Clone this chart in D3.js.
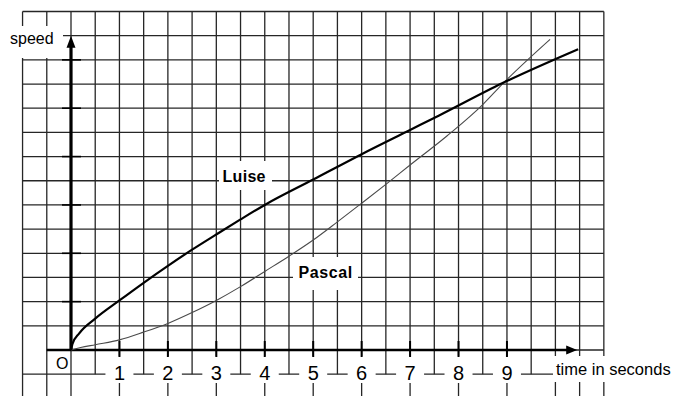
<!DOCTYPE html>
<html>
<head>
<meta charset="utf-8">
<script src="https://cdn.jsdelivr.net/npm/d3@7"></script>
<style>
  html, body { margin: 0; padding: 0; background: #fff; }
  text { font-family: "Liberation Sans", Arial, sans-serif; }
</style>
</head>
<body>
<div id="chart"></div>
<script>
// time in seconds / speed (in grid squares)
const tickSeconds = [1, 2, 3, 4, 5, 6, 7, 8, 9];

const luiseTime  = [0, 0.03, 0.17, 0.5, 1, 1.5, 2, 2.5, 3, 3.5, 4, 5, 6, 7, 7.6, 8.9, 10.47];
const luiseSpeed = [0, 0.25, 0.69, 1.3, 2.05, 2.78, 3.48, 4.15, 4.78, 5.4, 6.0, 7.05, 8.1, 9.1, 9.7, 11.03, 12.44];

const pascalTime  = [0, 0.2, 0.5, 1, 1.5, 2, 2.5, 3, 3.5, 4, 4.5, 5, 5.5, 6, 6.5, 7, 7.76, 8.5, 8.92, 9.89];
const pascalSpeed = [0, 0.1, 0.22, 0.42, 0.74, 1.1, 1.55, 2.05, 2.62, 3.25, 3.88, 4.55, 5.3, 6.07, 6.85, 7.65, 8.85, 10.15, 11.03, 12.85];

chart();

function chart() {
	const W = 680, H = 396;

	const svg = d3.select("#chart")
				  .append("svg")
				  .attr("width", W)
				  .attr("height", H);

	const x = d3.scaleLinear()
				.domain([0, 10])
				.range([71, 555.4]);

	const y = d3.scaleLinear()
				.domain([0, 14])
				.range([350, 11.5]);

	const gridColor = "#262626";

	// vertical grid lines, one every half second
	const grid = svg.append("g");
	d3.range(-1, 11.001, 0.5).forEach(t => {
		const half = t % 1 !== 0 && t > 0 && t < 10;
		grid.append("line")
			.attr("x1", x(t)).attr("x2", x(t))
			.attr("y1", y(14)).attr("y2", half ? y(-1) : H)
			.attr("stroke", gridColor)
			.attr("stroke-width", 1.3);
	});

	// horizontal grid lines, one per square
	d3.range(-1, 14.001, 1).forEach(v => {
		let x1 = x(-1), x2 = x(11);
		if (v === 0) x1 = x(-0.5);
		if (v === -1) x2 = x(10) - 2;
		grid.append("line")
			.attr("x1", x1).attr("x2", x2)
			.attr("y1", y(v)).attr("y2", y(v))
			.attr("stroke", gridColor)
			.attr("stroke-width", 1.3);
	});

	// white boxes behind the labels
	const boxes = [
		[0, 26, 63, 32],      // speed
		[219, 161, 53, 29],   // Luise
		[293, 257, 65, 33],   // Pascal
		[52, 353, 17, 19],    // O
		[553, 356, 127, 26]   // time in seconds
	];
	tickSeconds.forEach(t => boxes.push([x(t) - 14, 356, 28, 27]));
	svg.append("g")
	   .selectAll("rect")
	   .data(boxes)
	   .enter()
	   .append("rect")
	   .attr("x", d => d[0])
	   .attr("y", d => d[1])
	   .attr("width", d => d[2])
	   .attr("height", d => d[3])
	   .attr("fill", "#fff");

	// x-axis ticks
	svg.append("g")
	   .selectAll("line")
	   .data(tickSeconds)
	   .enter()
	   .append("line")
	   .attr("x1", d => x(d)).attr("x2", d => x(d))
	   .attr("y1", y(0) - 9).attr("y2", y(0) + 7)
	   .attr("stroke", "#000")
	   .attr("stroke-width", 2);

	// y-axis ticks, every two squares
	svg.append("g")
	   .selectAll("line")
	   .data([2, 4, 6, 8, 10, 12])
	   .enter()
	   .append("line")
	   .attr("x1", x(0) - 9).attr("x2", x(0) + 10)
	   .attr("y1", d => y(d)).attr("y2", d => y(d))
	   .attr("stroke", "#000")
	   .attr("stroke-width", 1.6);

	// axes with arrows
	const xTip = x(10.45), yTip = y(13);
	svg.append("line")
	   .attr("x1", x(-0.5)).attr("x2", xTip - 8)
	   .attr("y1", y(0)).attr("y2", y(0))
	   .attr("stroke", "#000")
	   .attr("stroke-width", 2.6);
	svg.append("path")
	   .attr("d", `M${xTip},${y(0)} L${xTip - 11},${y(0) - 4.5} L${xTip - 11},${y(0) + 4.5} Z`)
	   .attr("fill", "#000");

	svg.append("line")
	   .attr("x1", x(0)).attr("x2", x(0))
	   .attr("y1", y(0) + 1).attr("y2", yTip + 8)
	   .attr("stroke", "#000")
	   .attr("stroke-width", 3.2);
	svg.append("path")
	   .attr("d", `M${x(0)},${yTip} L${x(0) - 4.5},${yTip + 12} L${x(0) + 4.5},${yTip + 12} Z`)
	   .attr("fill", "#000");

	// the two runners
	const line = d3.line()
				   .x(d => x(d[0]))
				   .y(d => y(d[1]))
				   .curve(d3.curveMonotoneX);

	svg.append("path")
	   .datum(d3.zip(pascalTime, pascalSpeed))
	   .attr("d", line)
	   .attr("fill", "none")
	   .attr("stroke", "#4a4a4a")
	   .attr("stroke-width", 1.1);

	svg.append("path")
	   .datum(d3.zip(luiseTime, luiseSpeed))
	   .attr("d", line)
	   .attr("fill", "none")
	   .attr("stroke", "#000")
	   .attr("stroke-width", 2.2);

	// labels
	svg.append("text")
	   .attr("x", 10).attr("y", 44)
	   .style("font-size", "16px")
	   .text("speed");

	svg.append("text")
	   .attr("x", 56).attr("y", 368.5)
	   .style("font-size", "16px")
	   .text("O");

	svg.append("g")
	   .selectAll("text")
	   .data(tickSeconds)
	   .enter()
	   .append("text")
	   .attr("x", d => x(d))
	   .attr("y", 379.5)
	   .attr("text-anchor", "middle")
	   .style("font-size", "20px")
	   .text(d => d);

	svg.append("text")
	   .attr("x", 556).attr("y", 375)
	   .style("font-size", "16.5px")
	   .text("time in seconds");

	svg.append("text")
	   .attr("x", 222.5).attr("y", 181.5)
	   .style("font-size", "16px")
	   .style("font-weight", "bold")
	   .style("letter-spacing", "0.3px")
	   .text("Luise");

	svg.append("text")
	   .attr("x", 298.5).attr("y", 277.5)
	   .style("font-size", "16px")
	   .style("font-weight", "bold")
	   .style("letter-spacing", "0.6px")
	   .text("Pascal");
}
</script>
</body>
</html>
